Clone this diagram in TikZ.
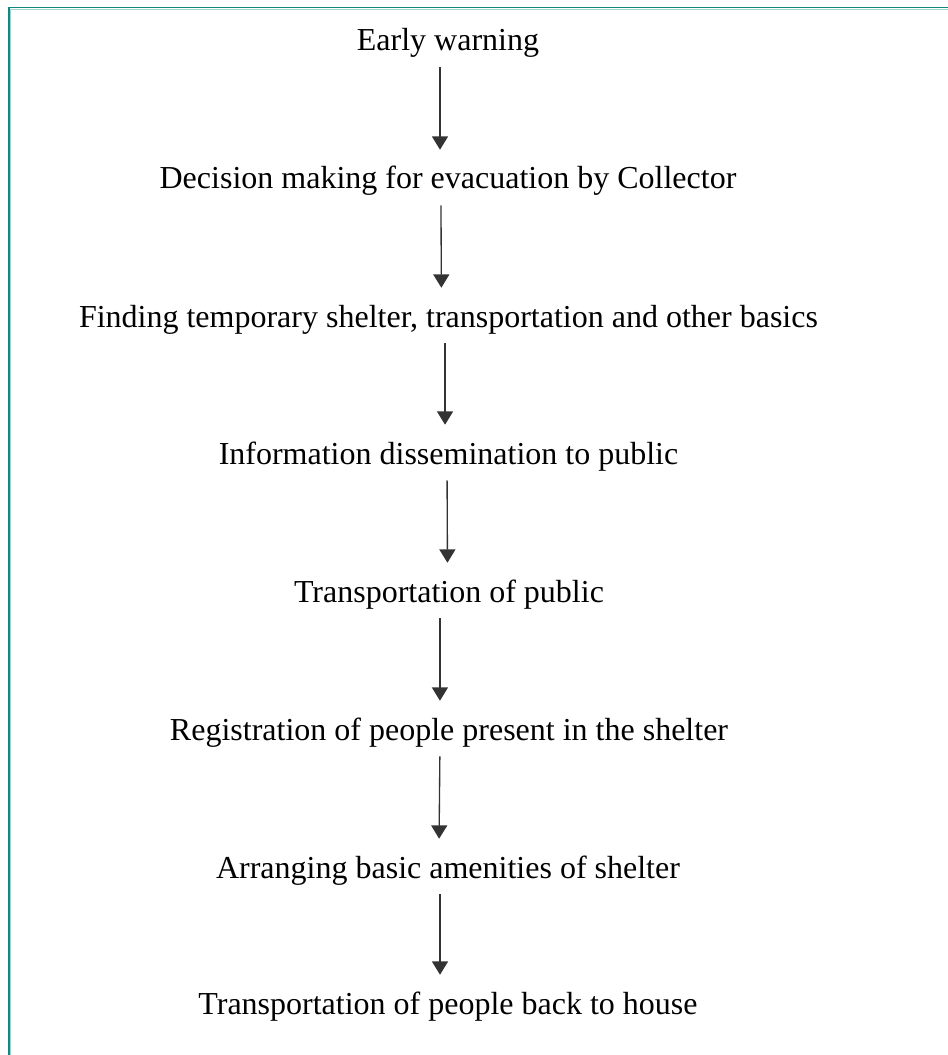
\documentclass[tikz,border=0pt]{standalone}
\usepackage{fontspec}
\setmainfont{Liberation Serif}
\usetikzlibrary{arrows.meta}
\definecolor{tealdark}{HTML}{13877F}
\definecolor{teallight}{HTML}{9ED6D0}
\begin{document}
\begin{tikzpicture}[x=0.75pt,y=-0.75pt,
  stepnode/.style={anchor=base,inner sep=0pt,text height=17pt,text depth=6pt,
    font=\fontsize{24}{28}\selectfont},
  arr/.style={-{Triangle[length=10pt,width=12pt]},line width=1pt,black!80,
    shorten <=6pt,shorten >=12.25pt}]
\useasboundingbox (0,0) rectangle (948,1055);
% frame (top and left edges visible)
\draw[tealdark,line width=1.4pt] (8.8,1060) -- (8.8,7.5) -- (960,7.5);
\draw[teallight,line width=1.1pt] (10.5,1060) -- (10.5,9.3) -- (960,9.3);
\node[stepnode] (n1) at (448,51) {Early warning};
\node[stepnode] (n2) at (448,189) {Decision making for evacuation by Collector};
\node[stepnode] (n3) at (448.5,327) {Finding temporary shelter, transportation and other basics};
\node[stepnode] (n4) at (448.5,464) {Information dissemination to public};
\node[stepnode] (n5) at (449,602) {Transportation of public};
\node[stepnode] (n6) at (449,740) {Registration of people present in the shelter};
\node[stepnode] (n7) at (448,878) {Arranging basic amenities of shelter};
\node[stepnode] (n8) at (448,1014) {Transportation of people back to house};
\foreach \a/\b/\s in {n1/n2/-6, n2/n3/-5.3, n3/n4/-2.6, n4/n5/-1.1, n5/n6/-6.8, n6/n7/-6.8, n7/n8/-6}
  \draw[arr] ([xshift=\s pt]\a.south) -- ([xshift=\s pt]\b.north);
\end{tikzpicture}
\end{document}
